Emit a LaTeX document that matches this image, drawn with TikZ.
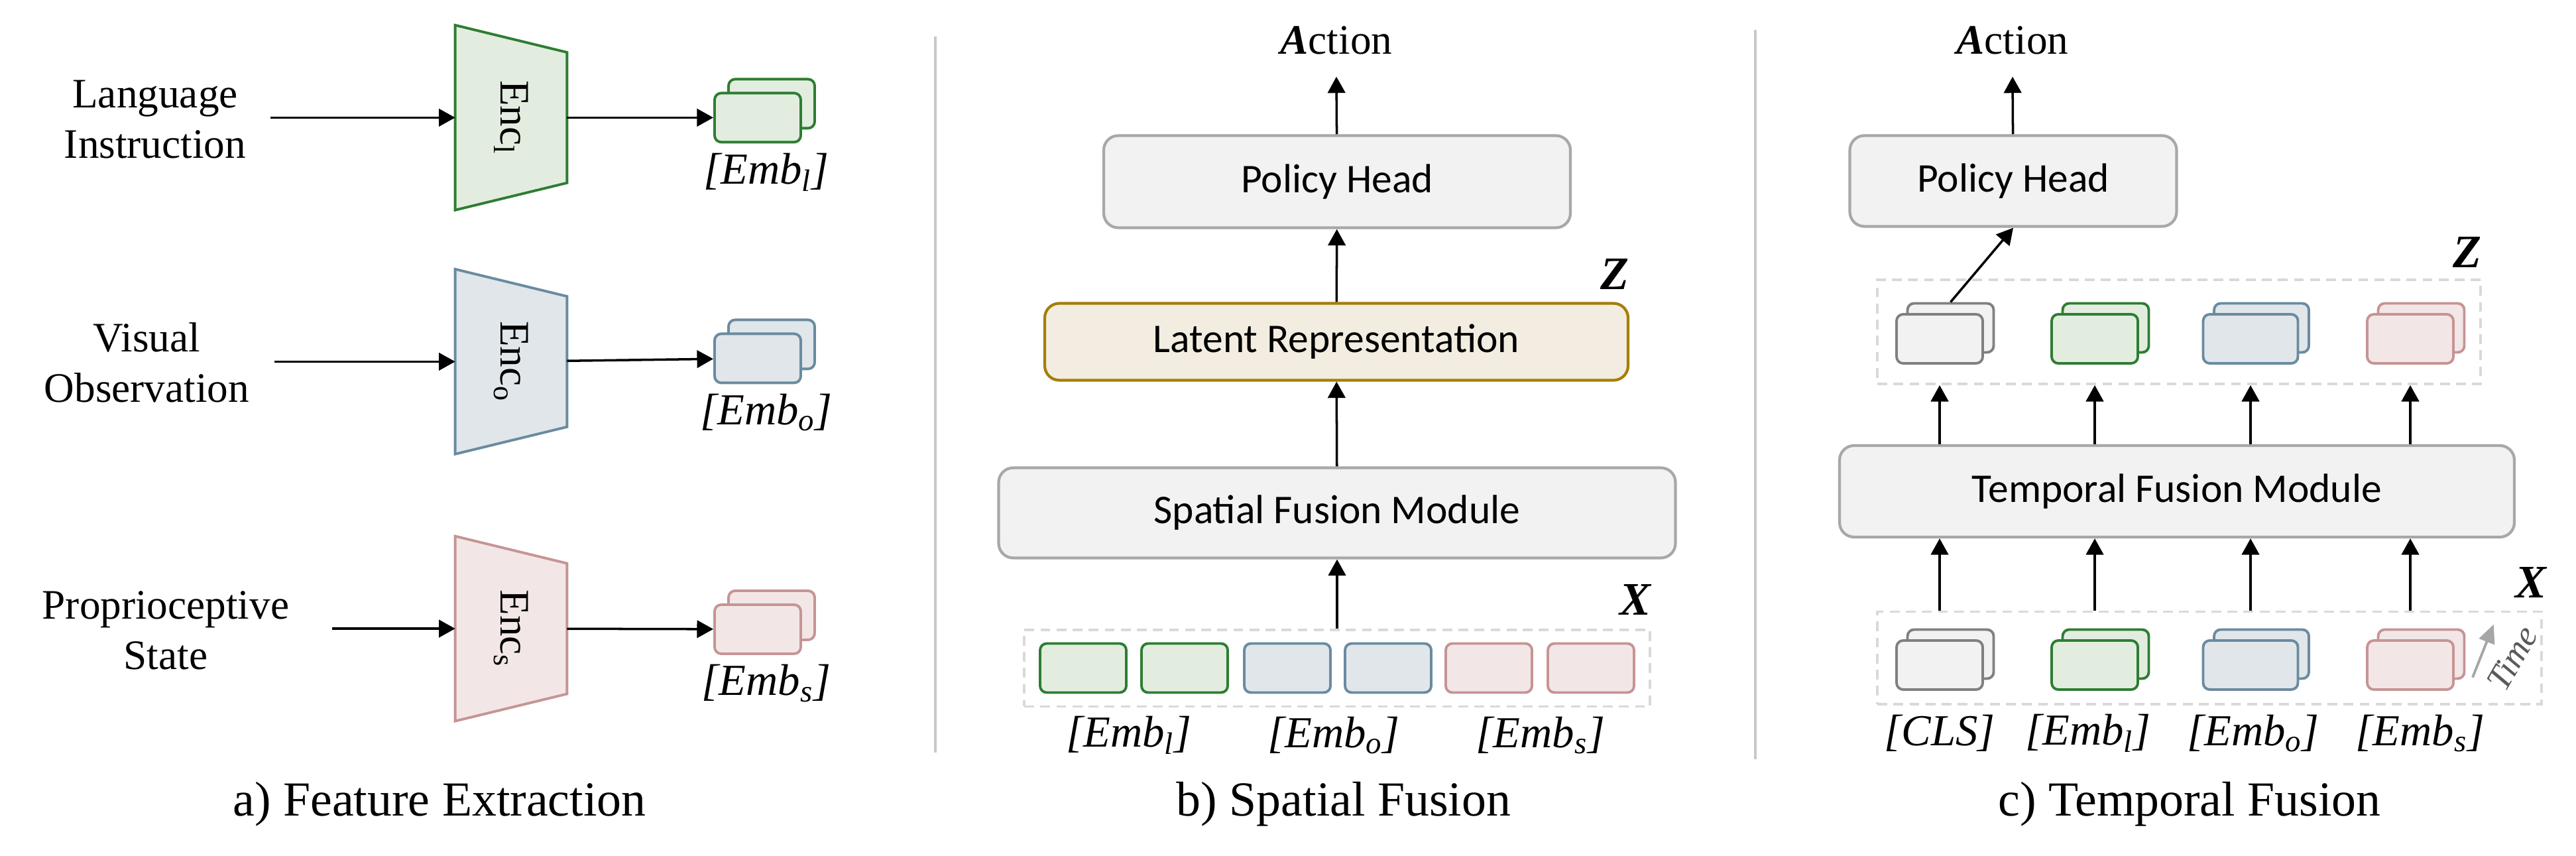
\documentclass[tikz,border=0pt]{standalone}
\usepackage{fontspec}
\setmainfont{Liberation Serif}
\newfontfamily\calibri{Carlito}
\usetikzlibrary{arrows.meta,positioning,fit,backgrounds,shadows,calc}
\definecolor{tokG}{HTML}{2E7D32}
\definecolor{tokGfill}{HTML}{E2EDE0}
\definecolor{tokB}{HTML}{6A8BA0}
\definecolor{tokBfill}{HTML}{E0E6EA}
\definecolor{tokR}{HTML}{C69494}
\definecolor{tokRfill}{HTML}{F2E7E6}
\definecolor{tokK}{HTML}{808080}
\definecolor{tokKfill}{HTML}{F2F2F2}
\definecolor{modD}{HTML}{A8A8A8}
\definecolor{modF}{HTML}{F2F2F2}
\definecolor{latD}{HTML}{A37F0B}
\definecolor{latF}{HTML}{F2EDE0}
\definecolor{dashG}{HTML}{D9D9D9}
\definecolor{sepG}{HTML}{C8C8C8}
\definecolor{timeA}{HTML}{A6A6A6}
\definecolor{timeT}{HTML}{5A5A5A}

\begin{document}
\begin{tikzpicture}[
  >={Triangle[length=7pt,width=7.5pt]},
  arr/.style={->, line width=1pt},
  lbl/.style={font=\fontsize{18}{21.5}\selectfont, align=center},
  subcap/.style={font=\fontsize{21}{25}\selectfont, anchor=base},
  emblbl/.style={font=\fontsize{19}{22}\selectfont\itshape, inner sep=0pt},
  vlbl/.style={font=\fontsize{20}{24}\selectfont\bfseries\itshape, inner sep=0pt, anchor=south east},
  mod/.style={draw=modD, fill=modF, line width=1.2pt, rounded corners=2.2mm, inner sep=0pt,
    font=\calibri\fontsize{17.5}{21}\selectfont},
  enc/.style={rotate=-90, minimum width=2.775cm, minimum height=1.673cm, inner sep=0pt,
    font=\fontsize{18}{21}\selectfont},
  tok/.style={draw=#1, fill=#1fill, line width=1.1pt, rounded corners=1mm,
    minimum width=1.3cm, minimum height=0.74cm, inner sep=0pt},
  stack/.style 2 args={tok=#1, copy shadow={shadow xshift=#2, shadow yshift=#2,
    draw=#1, fill=#1fill, line width=1.1pt}},
  dashbox/.style={draw=dashG, dash pattern=on 4.2pt off 2.7pt, line width=1.1pt, inner sep=0pt},
  divider/.style={draw=sepG, line width=0.9pt},
  tarr/.style={-{Triangle[length=8pt,width=7pt]}, draw=timeA, fill=timeA, line width=1.1pt},
]
\useasboundingbox (0,0) rectangle (38.86,12.90);

% ── a) feature extraction ───────────────────────────────────────────
\node[lbl] (lang) at (2.34,11.10) {Language\\Instruction};
\node[lbl] (vis)  at (2.215,7.43) {Visual\\Observation};
\node[lbl] (prop) at (2.50,3.39)  {Proprioceptive\\State};

\node[enc] (encl) at (7.71,11.126) {Enc\textsubscript{l}};
\node[enc] (enco) at (7.71,7.446)  {Enc\textsubscript{o}};
\node[enc] (encs) at (7.71,3.419)  {Enc\textsubscript{s}};

% trapezoids behind the rotated encoder labels
\begin{scope}[on background layer]
  \foreach \n/\col/\fil in {encl/tokG/tokGfill, enco/tokB/tokBfill, encs/tokR/tokRfill}
    \draw[draw=\col, fill=\fil, line width=1.1pt] (\n.south west) -- ([yshift=-4.1mm]\n.north west)
      -- ([yshift=4.1mm]\n.north east) -- (\n.south east) -- cycle;
\end{scope}

\node[stack={tokG}{2.1mm}] (embl) at (11.43,11.126) {};
\node[stack={tokB}{2.1mm}] (embo) at (11.43,7.496)  {};
\node[stack={tokR}{2.1mm}] (embs) at (11.43,3.41)   {};
\node[emblbl, below=1.4mm of embl, xshift=1.3mm] (embll) {[Emb\textsubscript{l}]};
\node[emblbl, below=1.4mm of embo, xshift=1.3mm] (embol) {[Emb\textsubscript{o}]};
\node[emblbl, below=1.4mm of embs, xshift=1.3mm] (embsl) {[Emb\textsubscript{s}]};

\coordinate (inl) at (4.08,11.126);
\coordinate (ino) at (4.14,7.446);
\coordinate (ins) at (5.01,3.419);
\draw[arr] (inl) -- (encl); \draw[arr] (encl) -- (embl);
\draw[arr] (ino) -- (enco); \draw[arr] (enco) -- (embo);
\draw[arr] (ins) -- (encs); \draw[arr] (encs) -- (embs);

\node[subcap] (capa) at (6.63,0.595) {a) Feature Extraction};

\draw[divider] (14.11,12.35) -- (14.11,1.55);
\draw[divider] (26.48,12.45) -- (26.48,1.45);

% ── b) spatial fusion ───────────────────────────────────────────────
\node[lbl] (actb) at (20.16,12.29) {\textbf{\textit{A}}ction};
\node[mod, minimum width=7.04cm, minimum height=1.39cm] (phb) at (20.17,10.16) {Policy Head};
\node[mod, draw=latD, fill=latF, minimum width=8.80cm, minimum height=1.16cm] (latb) at (20.16,7.745)
  {Latent Representation};
\node[mod, minimum width=10.21cm, minimum height=1.36cm] (sfm) at (20.17,5.165) {Spatial Fusion Module};

\foreach \i/\x/\col in {1/16.34/tokG, 2/17.87/tokG, 3/19.42/tokB, 4/20.94/tokB, 5/22.46/tokR, 6/24.00/tokR}
  \node[tok=\col] (xb\i) at (\x,2.825) {};
\node[dashbox, fit=(xb1)(xb6), inner xsep=2.2mm, inner ysep=1.9mm] (xrowb) {};

\node[emblbl] (lb1) at (17.03,1.81) {[Emb\textsubscript{l}]};
\node[emblbl] (lb2) at (20.12,1.81) {[Emb\textsubscript{o}]};
\node[emblbl] (lb3) at (23.24,1.81) {[Emb\textsubscript{s}]};

\node[vlbl] (zb) at ([yshift=1.8mm]latb.north east) {Z};
\node[vlbl] (xb) at ([yshift=1.9mm]xrowb.north east) {X};

\draw[arr] (xrowb.north -| sfm) -- (sfm);
\draw[arr] (sfm) -- (latb);
\draw[arr] (latb) -- (phb);
\draw[arr] (phb) -- ([yshift=-3.4mm]actb.base);

\node[subcap] (capb) at (20.27,0.595) {b) Spatial Fusion};

% ── c) temporal fusion ──────────────────────────────────────────────
\node[lbl] (actc) at (30.36,12.29) {\textbf{\textit{A}}ction};
\node[mod, minimum width=4.93cm, minimum height=1.37cm] (phc) at (30.37,10.17) {Policy Head};
\node[mod, minimum width=10.18cm, minimum height=1.38cm] (tfm) at (32.84,5.49) {Temporal Fusion Module};

\foreach \i/\x/\col/\w in {1/29.26/tokK/1.3, 2/31.60/tokG/1.3, 3/33.95/tokB/1.43, 4/36.36/tokR/1.3} {
  \node[stack={\col}{1.65mm}, minimum width=\w cm] (zs\i) at (\x,7.79) {};
  \node[stack={\col}{1.65mm}, minimum width=\w cm] (xs\i) at (\x,2.87) {};
}
\node[dashbox, fit={(28.32,7.11) (37.42,8.68)}] (zrow) {};
\node[dashbox, fit={(28.32,2.28) (38.34,3.675)}] (xrow) {};

\foreach \i/\x/\t in {1/29.26/{[CLS]}, 2/31.50/{[Emb\textsubscript{l}]},
                      3/33.99/{[Emb\textsubscript{o}]}, 4/36.51/{[Emb\textsubscript{s}]}}
  \node[emblbl] (lc\i) at (\x,1.84) {\t};

\node[vlbl] (zc) at ([yshift=1.6mm]zrow.north east) {Z};
\node[vlbl] (xc) at ([xshift=0.6mm,yshift=1.8mm]xrow.north east) {X};

\foreach \i in {1,...,4} {
  \draw[arr] (xrow.north -| xs\i) -- (tfm.south -| xs\i);
  \draw[arr] (tfm.north -| zs\i) -- (zrow.south -| zs\i);
}
\draw[arr] ([shift={(1.65mm,1.65mm)}]zs1.north) -- (phc.south);
\draw[arr] (phc) -- ([yshift=-3.4mm]actc.base);

% time axis
\coordinate (t0) at (37.30,2.683);
\coordinate (t1) at (37.617,3.483);
\draw[tarr] (t0) -- (t1);
\node[font=\fontsize{15}{18}\selectfont\itshape, text=timeT, rotate=60, inner sep=0pt] (timel)
  at (37.90,2.97) {Time};

\node[subcap] (capc) at (33.03,0.595) {c) Temporal Fusion};

\end{tikzpicture}
\end{document}
